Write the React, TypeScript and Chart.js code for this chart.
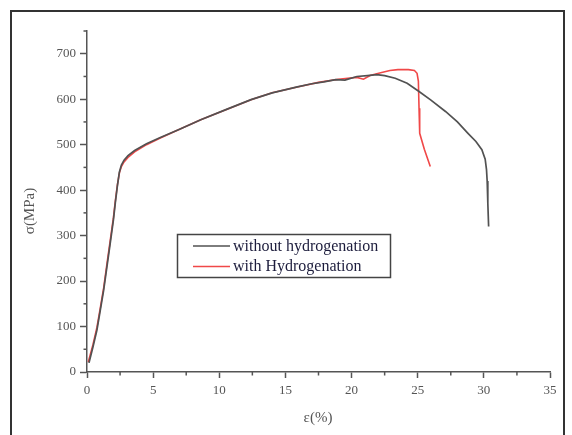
import { useEffect, useRef } from 'react';
import { Chart, registerables } from 'chart.js';

Chart.register(...registerables);

// Series: without hydrogenation (strain %, stress MPa)
const epsPlain = [0.15, 0.45, 0.75, 1.0, 1.26, 1.5, 1.76, 2.0, 2.14, 2.3, 2.45, 2.6, 2.8, 3.1, 3.6, 4.5, 5.5, 7.0, 8.6, 10.5, 12.4, 14.0, 15.9, 17.0, 17.9, 18.8, 19.5, 20.4, 21.2, 21.9, 22.5, 23.3, 24.2, 25.1, 26.0, 27.1, 28.0, 28.8, 29.4, 29.85, 30.1, 30.2, 30.25, 30.3, 30.36];
const sigmaPlain = [20, 55, 92, 135, 180, 230, 284, 335, 372, 410, 440, 455, 466, 476, 487, 502, 515, 534, 555, 577, 599, 614, 627, 634, 638, 643, 642, 650, 652, 654, 652, 646, 635, 617, 598, 573, 550, 525, 507, 489, 468, 445, 420, 371, 320];

// Series: with hydrogenation
const epsH = [0.1, 0.45, 0.75, 1.0, 1.26, 1.5, 1.76, 2.0, 2.14, 2.3, 2.45, 2.6, 2.8, 3.1, 3.6, 4.5, 5.5, 7.0, 8.6, 10.5, 12.4, 14.0, 15.9, 17.5, 19.0, 20.4, 20.9, 21.4, 22.2, 22.9, 23.5, 24.3, 24.75, 24.95, 25.05, 25.1, 25.15, 25.5, 25.95];
const sigmaH = [22, 60, 98, 140, 185, 236, 290, 340, 376, 412, 438, 452, 462, 472, 484, 500, 514, 534, 555, 577, 599, 614, 627, 637, 644, 648, 644, 652, 658, 663, 665, 665, 663, 657, 640, 580, 525, 490, 452];

const seriesNames = ['without hydrogenation', 'with Hydrogenation'];
const xTitle = 'ε(%)';
const yTitle = 'σ(MPa)';

const SERIF = '"Liberation Serif", "Times New Roman", serif';
const AXIS_COLOR = '#555';
const BLACK_LINE = '#525252';
const RED_LINE = '#f04848';

const decorPlugin = {
  id: 'decor',
  afterDraw(chart: any) {
    const { ctx } = chart;
    const xs = chart.scales.x;
    const ys = chart.scales.y;
    ctx.save();
    // minor ticks
    ctx.strokeStyle = AXIS_COLOR;
    ctx.lineWidth = 1.5;
    for (let v = 2.5; v < 35; v += 5) {
      const px = xs.getPixelForValue(v);
      ctx.beginPath();
      ctx.moveTo(px, ys.bottom);
      ctx.lineTo(px, ys.bottom + 3.5);
      ctx.stroke();
    }
    for (let v = 50; v <= 750; v += 100) {
      const py = ys.getPixelForValue(v);
      ctx.beginPath();
      ctx.moveTo(xs.left, py);
      ctx.lineTo(xs.left - 3.5, py);
      ctx.stroke();
    }
    // axis titles
    ctx.fillStyle = '#555';
    ctx.font = '15px ' + SERIF;
    ctx.textAlign = 'center';
    ctx.textBaseline = 'middle';
    ctx.fillText(xTitle, 318, 418);
    ctx.save();
    ctx.translate(30, 211);
    ctx.rotate(-Math.PI / 2);
    ctx.fillText(yTitle, 0, 0);
    ctx.restore();
    // legend
    ctx.strokeStyle = '#444';
    ctx.lineWidth = 1.5;
    ctx.strokeRect(177.5, 234.5, 213, 43);
    const rows = [
      { y: 246, color: BLACK_LINE, text: seriesNames[0] },
      { y: 266.5, color: RED_LINE, text: seriesNames[1] },
    ];
    ctx.font = '16px ' + SERIF;
    ctx.textAlign = 'left';
    for (const r of rows) {
      ctx.strokeStyle = r.color;
      ctx.lineWidth = 1.6;
      ctx.beginPath();
      ctx.moveTo(193, r.y);
      ctx.lineTo(230, r.y);
      ctx.stroke();
      ctx.fillStyle = '#1c1c3c';
      ctx.fillText(r.text, 233, r.y + 0.5);
    }
    ctx.restore();
  },
};

export default function App() {
  const ref = useRef<HTMLCanvasElement>(null);
  useEffect(() => {
    if (!ref.current) return;
    const chart = new Chart(ref.current, {
      type: 'line',
      data: {
        datasets: [
          {
            label: seriesNames[0],
            data: epsPlain.map((x, i) => ({ x, y: sigmaPlain[i] })),
            borderColor: BLACK_LINE,
            borderWidth: 1.7,
            pointRadius: 0,
            tension: 0,
            fill: false,
          },
          {
            label: seriesNames[1],
            data: epsH.map((x, i) => ({ x, y: sigmaH[i] })),
            borderColor: RED_LINE,
            borderWidth: 1.6,
            pointRadius: 0,
            tension: 0,
            fill: false,
          },
        ],
      },
      options: {
        animation: false,
        responsive: false,
        layout: { padding: { left: 27, top: 31, right: 22, bottom: 23 } },
        plugins: { legend: { display: false }, tooltip: { enabled: false } },
        scales: {
          x: {
            type: 'linear',
            min: 0,
            max: 35,
            afterFit: (s: any) => { s.height = 40; },
            ticks: {
              stepSize: 2.5,
              autoSkip: false,
              maxRotation: 0,
              padding: 5,
              color: '#555',
              font: { family: SERIF, size: 13 },
              callback: (v: any) => (Number(v) % 5 === 0 ? String(v) : ''),
            },
            grid: {
              display: true,
              drawOnChartArea: false,
              drawTicks: true,
              tickLength: 6,
              tickWidth: 1.5,
              tickColor: (c: any) => (c.tick && c.tick.value % 5 === 0 ? AXIS_COLOR : 'rgba(0,0,0,0)'),
            },
            border: { display: true, color: AXIS_COLOR, width: 1.5 },
          },
          y: {
            type: 'linear',
            min: 0,
            max: 750,
            afterFit: (s: any) => { s.width = 60; },
            ticks: {
              stepSize: 50,
              autoSkip: false,
              padding: 4,
              color: '#555',
              font: { family: SERIF, size: 13 },
              callback: (v: any) => (Number(v) % 100 === 0 ? String(v) : ''),
            },
            grid: {
              display: true,
              drawOnChartArea: false,
              drawTicks: true,
              tickLength: 7,
              tickWidth: 1.5,
              tickColor: (c: any) => (c.tick && c.tick.value % 100 === 0 ? AXIS_COLOR : 'rgba(0,0,0,0)'),
            },
            border: { display: true, color: AXIS_COLOR, width: 1.5 },
          },
        },
      },
      plugins: [decorPlugin],
    } as any);
    return () => chart.destroy();
  }, []);

  return (
    <div style={{ position: 'absolute', left: 0, top: 0, width: 572, height: 435, background: '#fff', overflow: 'hidden' }}>
      <div style={{ position: 'absolute', left: 10, top: 10, width: 551, height: 440, border: '2px solid #333' }} />
      <canvas ref={ref} width={572} height={435} style={{ position: 'absolute', left: 0, top: 0, width: 572, height: 435 }} />
    </div>
  );
}
